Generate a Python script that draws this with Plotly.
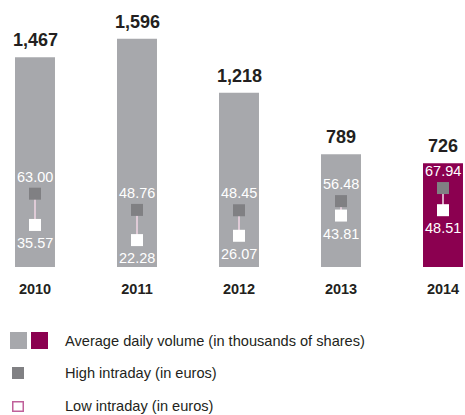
import plotly.graph_objects as go

# Share data by year
years = ["2010", "2011", "2012", "2013", "2014"]
avg_volume = [1467, 1596, 1218, 789, 726]          # thousands of shares
high_intraday = [63.00, 48.76, 48.45, 56.48, 67.94]  # euros
low_intraday = [35.57, 22.28, 26.07, 43.81, 48.51]   # euros

GREY = "#a7a8ac"
PURPLE = "#8b0050"
DARK = "#808083"
INK = "#231f20"
NARROW = "Liberation Sans Narrow, Arial Narrow, Liberation Sans, Arial, sans-serif"
SANS = "Liberation Sans, Arial, sans-serif"

W, H = 465, 415
PLOT_BOTTOM = 267  # pixel row of the baseline

x = list(range(len(years)))
bar_colors = [GREY] * (len(years) - 1) + [PURPLE]

fig = go.Figure()

fig.add_trace(go.Bar(
    x=x, y=avg_volume, width=0.392,
    marker=dict(color=bar_colors, line=dict(width=0)),
    hoverinfo="skip", showlegend=False,
))

# vertical connector between high and low
cx, cy = [], []
for i in x:
    cx += [i, i, None]
    cy += [high_intraday[i], low_intraday[i], None]
fig.add_trace(go.Scatter(
    x=cx, y=cy, yaxis="y2", mode="lines",
    line=dict(color="#eed4e2", width=1.6),
    hoverinfo="skip", showlegend=False,
))
fig.add_trace(go.Scatter(
    x=x, y=high_intraday, yaxis="y2", mode="markers",
    marker=dict(symbol="square", size=12, color=DARK, line=dict(width=0)),
    hoverinfo="skip", showlegend=False,
))
fig.add_trace(go.Scatter(
    x=x, y=low_intraday, yaxis="y2", mode="markers",
    marker=dict(symbol="square", size=12, color="white", line=dict(width=0)),
    hoverinfo="skip", showlegend=False,
))

annotations = []
for i in x:
    annotations.append(dict(
        x=i, y=avg_volume[i], xref="x", yref="y", text=f"{avg_volume[i]:,}",
        showarrow=False, yshift=17, yanchor="middle",
        font=dict(family=SANS, size=18, color=INK, weight="bold"),
    ))
    annotations.append(dict(
        x=i, y=high_intraday[i], xref="x", yref="y2", text=f"{high_intraday[i]:.2f}",
        showarrow=False, yshift=17, yanchor="middle",
        font=dict(family=SANS, size=14.5, color="white"),
    ))
    annotations.append(dict(
        x=i, y=low_intraday[i], xref="x", yref="y2", text=f"{low_intraday[i]:.2f}",
        showarrow=False, yshift=-18, yanchor="middle",
        font=dict(family=SANS, size=14.5, color="white"),
    ))


def px_x(p):
    return p / W


def px_y(p):
    return (PLOT_BOTTOM - p) / PLOT_BOTTOM


shapes = []


def box(x0, y0, x1, y1, fill, line_color=None, line_width=0):
    shapes.append(dict(
        type="rect", xref="paper", yref="paper",
        x0=px_x(x0), x1=px_x(x1), y0=px_y(y1), y1=px_y(y0),
        fillcolor=fill, line=dict(color=line_color or fill, width=line_width),
        layer="above",
    ))


# legend
box(10, 332, 27, 349, GREY)
box(31, 332, 48, 349, PURPLE)
box(12, 367, 24, 379, DARK)
box(12.75, 401.75, 23.25, 411.25, "white", "#c0609a", 1.5)

legend_rows = [
    ("Average daily volume (in thousands of shares)", 340.5),
    ("High intraday (in euros)", 373),
    ("Low intraday (in euros)", 406),
]
for text, yy in legend_rows:
    annotations.append(dict(
        x=px_x(63), y=px_y(yy), xref="paper", yref="paper", text=text,
        showarrow=False, xanchor="left", yanchor="middle",
        font=dict(family=NARROW, size=14.6, color=INK),
    ))

vol_per_px = 0.143
price_per_px = 1.14
price_zero_px = 265.5
fig.update_layout(
    width=W, height=H,
    margin=dict(l=0, r=0, t=0, b=H - PLOT_BOTTOM, pad=0),
    paper_bgcolor="white", plot_bgcolor="white",
    showlegend=False,
    xaxis=dict(
        range=[-35 / 102, (W - 35) / 102],
        tickmode="array", tickvals=x, ticktext=years,
        tickfont=dict(family=NARROW, size=14.5, color=INK, weight="bold"),
        showgrid=False, zeroline=False, showline=False, ticks="",
        ticklabelstandoff=11, fixedrange=True,
    ),
    yaxis=dict(
        range=[0, PLOT_BOTTOM / vol_per_px],
        visible=False, showgrid=False, zeroline=False, fixedrange=True,
    ),
    yaxis2=dict(
        range=[(price_zero_px - PLOT_BOTTOM) / price_per_px,
               price_zero_px / price_per_px],
        overlaying="y", visible=False, showgrid=False, zeroline=False,
        fixedrange=True,
    ),
    annotations=annotations,
    shapes=shapes,
)

fig.write_html("out.html")
